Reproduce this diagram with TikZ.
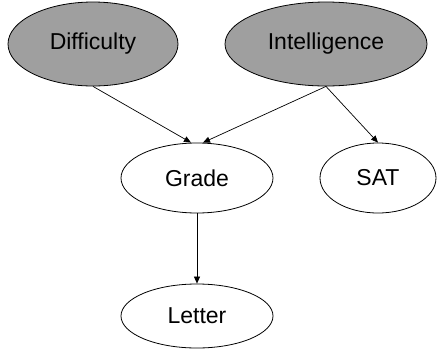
\documentclass[tikz,border=0pt]{standalone}
\usepackage{fontspec}
\setmainfont{Liberation Sans}
\usetikzlibrary{arrows.meta,shapes.geometric,calc}

\begin{document}
\begin{tikzpicture}[x=1pt,y=-1pt,>={Triangle[length=7pt,width=6pt]}]
\tikzstyle{var}=[draw, ellipse, line width=0.8pt, inner sep=0pt, font=\fontsize{23}{27}\selectfont]
\tikzstyle{obs}=[var, fill=gray!75]
\useasboundingbox (0,0) rectangle (437,349);
\node[obs, minimum width=170pt, minimum height=84pt] (diff) at (93,44) {Difficulty};
\node[obs, minimum width=202pt, minimum height=84pt] (intel) at (326,44) {Intelligence};
\node[var, minimum width=152pt, minimum height=70pt] (grade) at (197,178) {Grade};
\node[var, minimum width=116pt, minimum height=70pt] (sat) at (378,178) {SAT};
\node[var, minimum width=152pt, minimum height=64pt] (letter) at (197,316) {Letter};

\draw[->, line width=0.7pt] (diff.south) -- ([xshift=-6pt]grade.north);
\draw[->, line width=0.7pt] (intel.south) -- ([xshift=6pt]grade.north);
\draw[->, line width=0.7pt] (intel.south) -- (sat.north);
\draw[->, line width=0.7pt] (grade.south) -- (letter.north);
\end{tikzpicture}
\end{document}
